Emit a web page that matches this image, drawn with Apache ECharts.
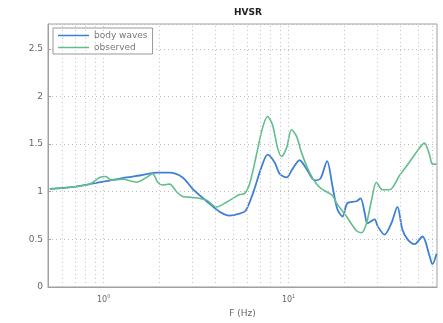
<!DOCTYPE html>
<html><head><meta charset="utf-8">
<script src="https://cdn.jsdelivr.net/npm/echarts@6/dist/echarts.min.js"></script>
<style>html,body{margin:0;padding:0;background:#fff}#c{width:443px;height:323px}</style>
</head><body><div id="c"></div>
<script>
const titleText = "HVSR";
const xName = "F (Hz)";
const seriesNames = ["body waves", "observed"];
const freqBody = [0.511,0.68,0.84,1.038,1.331,1.565,1.934,2.274,2.673,3.027,3.605,4.236,4.798,5.435,5.855,6.383,7.145,7.70,8.40,8.94,9.75,10.51,11.47,12.5,13.82,14.89,16.15,17.3,18.4,19.6,20.8,23.3,24.5,25.8,26.7,29.2,30.3,33.0,36.0,38.8,41.3,44.0,48.0,53.0,57.8,60.0,63.1];
const hvBody = [1.03,1.05,1.08,1.11,1.15,1.17,1.20,1.20,1.15,1.03,0.90,0.79,0.75,0.77,0.80,0.97,1.26,1.39,1.31,1.19,1.15,1.24,1.33,1.24,1.12,1.14,1.32,1.05,0.81,0.74,0.88,0.90,0.93,0.78,0.67,0.71,0.64,0.55,0.67,0.84,0.60,0.50,0.45,0.53,0.33,0.24,0.35];
const freqObs = [0.511,0.68,0.84,0.951,1.025,1.105,1.267,1.507,1.708,1.84,1.959,2.084,2.274,2.48,2.673,3.027,3.605,4.08,4.62,5.435,5.78,6.15,6.71,7.23,7.70,8.19,8.72,9.16,9.75,10.38,11.05,11.75,12.99,14.17,15.08,16.04,17.3,18.17,20.58,23.3,24.8,26.4,28.1,29.9,32.2,35.2,39.8,42.4,46.2,49.8,54.3,57.8,60.0,63.1];
const hvObs = [1.03,1.05,1.08,1.15,1.16,1.12,1.13,1.10,1.15,1.19,1.10,1.07,1.08,1.00,0.95,0.94,0.91,0.84,0.89,0.97,0.98,1.08,1.39,1.67,1.79,1.70,1.46,1.37,1.46,1.65,1.58,1.41,1.20,1.08,1.03,1.00,0.96,0.88,0.74,0.59,0.57,0.67,0.91,1.10,1.02,1.02,1.17,1.24,1.34,1.43,1.51,1.39,1.29,1.29];
const gridFreqs = [0.6,0.7,0.8,0.9,1,2,3,4,5,6,7,8,9,10,20,30,40,50,60];
const xLabelValues = [1, 10];
const xLabelTexts = ["0", "1"];

const chart = echarts.init(document.getElementById('c'), null, {renderer:'canvas'});
const pair = (xs, ys) => xs.map((x, i) => [x, ys[i]]);
chart.setOption({
  animation: false,
  backgroundColor: '#fff',
  title: { text: titleText, left: 243, top: 3, textAlign: 'center',
    textStyle: { fontSize: 9, fontWeight: 'bold', color: '#222', fontFamily: 'DejaVu Sans' } },
  grid: { left: 48, right: 6, top: 24, bottom: 31, show: true, borderColor: '#a0a0a0', borderWidth: 1 },
  legend: {
    data: seriesNames, orient: 'vertical', left: 53, top: 28,
    icon: 'rect', itemWidth: 31, itemHeight: 1.5, itemGap: 3,
    padding: [3, 5, 2, 5], borderColor: '#999', borderWidth: 1, backgroundColor: '#fff',
    textStyle: { fontSize: 9, color: '#777', fontFamily: 'DejaVu Sans' }
  },
  xAxis: {
    type: 'log', min: 0.5, max: 63.5,
    name: xName, nameLocation: 'middle', nameGap: 22,
    nameTextStyle: { fontSize: 9, color: '#666', fontFamily: 'DejaVu Sans' },
    axisLine: { lineStyle: { color: '#a0a0a0' } },
    axisTick: { show: false },
    splitLine: { show: false },
    axisLabel: {
      margin: 7, color: '#666', fontFamily: 'DejaVu Sans',
      formatter: v => {
        const i = xLabelValues.findIndex(t => Math.abs(t - v) < 1e-6);
        return i < 0 ? '' : '{b|10}{s|' + xLabelTexts[i] + '}';
      },
      rich: { b: { fontSize: 8, color: '#666' }, s: { fontSize: 5, color: '#666', padding: [0, 0, 6, 0] } }
    }
  },
  yAxis: {
    type: 'value', min: 0, max: 2.76, interval: 0.5,
    axisLine: { show: true, lineStyle: { color: '#a0a0a0' } },
    axisTick: { show: true, inside: true, length: 3, lineStyle: { color: '#a0a0a0' } },
    axisLabel: { fontSize: 9, color: '#666', margin: 5, fontFamily: 'DejaVu Sans',
      showMaxLabel: false },
    splitLine: { show: true, lineStyle: { type: [1, 3], color: '#bbb', width: 1 } }
  },
  series: [
    { name: 'grid', type: 'line', data: [[0.5, 0]], showSymbol: false, silent: true, z: 1,
      lineStyle: { opacity: 0 },
      markLine: { silent: true, symbol: 'none', label: { show: false },
        lineStyle: { type: [1, 3], color: '#c4c4c4', width: 1 },
        data: gridFreqs.map(f => ({ xAxis: f })) } },
    { name: seriesNames[0], type: 'line', data: pair(freqBody, hvBody), smooth: 0.3,
      showSymbol: false, z: 3, color: '#3f7fd6', lineStyle: { width: 1.8, color: '#3f7fd6' } },
    { name: seriesNames[1], type: 'line', data: pair(freqObs, hvObs), smooth: 0.3,
      showSymbol: false, z: 4, color: '#62bf8c', lineStyle: { width: 1.6, color: '#62bf8c' } }
  ]
});
</script></body></html>
